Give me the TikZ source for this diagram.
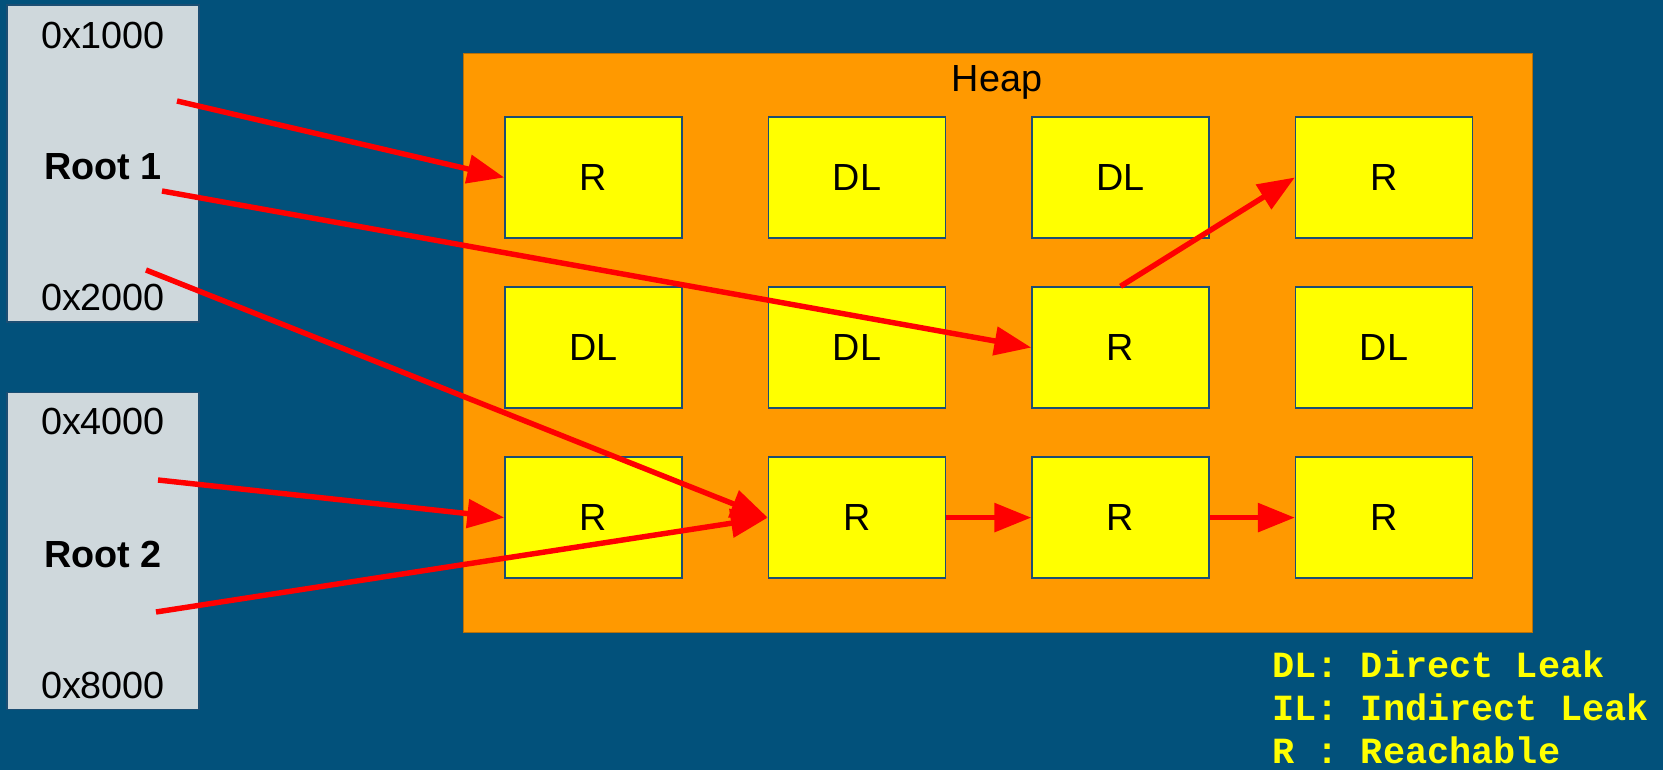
\documentclass[tikz,border=0pt]{standalone}
\usepackage{fontspec}
\setmainfont{Liberation Sans}
\newfontfamily\legendfont{Liberation Mono}
\usetikzlibrary{arrows.meta,positioning}
\definecolor{slideblue}{HTML}{02517B}
\definecolor{rootgray}{HTML}{CFD8DC}
\definecolor{heaporange}{HTML}{FF9900}
\definecolor{heapedge}{HTML}{B7700A}
\definecolor{cellyellow}{HTML}{FFFF00}
\definecolor{celledge}{HTML}{1C4E73}
\definecolor{pointerred}{HTML}{FF0000}

\begin{document}
\begin{tikzpicture}[
    x=0.02cm,y=-0.02cm,
    font=\fontsize{21.5}{26}\selectfont,
    root/.style={draw=celledge,line width=0.8pt,fill=rootgray,minimum width=3.84cm,minimum height=6.34cm,inner sep=0pt},
    heap/.style={draw=heapedge,line width=0.6pt,fill=heaporange,minimum width=21.4cm,minimum height=11.6cm,inner sep=0pt},
    cell/.style={draw=celledge,line width=0.9pt,fill=cellyellow,minimum width=3.54cm,minimum height=2.42cm,inner sep=0pt},
    legend/.style={anchor=west,inner sep=0pt,text=cellyellow,font=\legendfont\bfseries\fontsize{21}{24}\selectfont},
    pointer/.style={-{Triangle[length=21pt,width=16pt]},line width=3.1pt,draw=pointerred}
  ]
    \fill[slideblue] (0,0) rectangle (1663,770);
    \useasboundingbox (0,0) rectangle (1663,770);

    % root sets
    \node[root] (root1) at (103,163.5) {};
    \node (r1top) at (103,35) {0x1000};
    \node[font=\fontsize{21.5}{26}\selectfont\bfseries] (r1name) at (103,167) {Root 1};
    \node (r1bot) at (103,297) {0x2000};

    \node[root] (root2) at (103,551) {};
    \node (r2top) at (103,421) {0x4000};
    \node[font=\fontsize{21.5}{26}\selectfont\bfseries] (r2name) at (103,554) {Root 2};
    \node (r2bot) at (103,685) {0x8000};

    % heap with its blocks
    \node[heap] (heap) at (998,343) {};
    \node (heaplabel) at (997,82) {Heap};

    \node[cell] (c11) at (593.5,177.5) {R};
    \node[cell,right=1.7cm of c11] (c12) {DL};
    \node[cell,right=1.7cm of c12] (c13) {DL};
    \node[cell,right=1.7cm of c13] (c14) {R};
    \node[cell,below=0.95cm of c11] (c21) {DL};
    \node[cell,right=1.7cm of c21] (c22) {DL};
    \node[cell,right=1.7cm of c22] (c23) {R};
    \node[cell,right=1.7cm of c23] (c24) {DL};
    \node[cell,below=0.95cm of c21] (c31) {R};
    \node[cell,right=1.7cm of c31] (c32) {R};
    \node[cell,right=1.7cm of c32] (c33) {R};
    \node[cell,right=1.7cm of c33] (c34) {R};

    % pointer slots inside the roots
    \coordinate (p1) at (177,101);
    \coordinate (p2) at (162,191);
    \coordinate (p3) at (146,270);
    \coordinate (p4) at (158,480);
    \coordinate (p5) at (156,612);

    \draw[pointer] (p1) -- (c11.west);
    \draw[pointer] (p2) -- (c23.west);
    \draw[pointer] (p3) -- (c32.west);
    \draw[pointer] (p4) -- (c31.west);
    \draw[pointer] (p5) -- (c32.west);
    \draw[pointer] (c23.north) -- (c14.west);
    \draw[pointer] (c32.east) -- (c33.west);
    \draw[pointer] (c33.east) -- (c34.west);

    % legend
    \node[legend] (leg1) at (1272,664) {DL: Direct Leak};
    \node[legend] (leg2) at (1272,707) {IL: Indirect Leak};
    \node[legend] (leg3) at (1272,750) {R : Reachable};
  \end{tikzpicture}
\end{document}
